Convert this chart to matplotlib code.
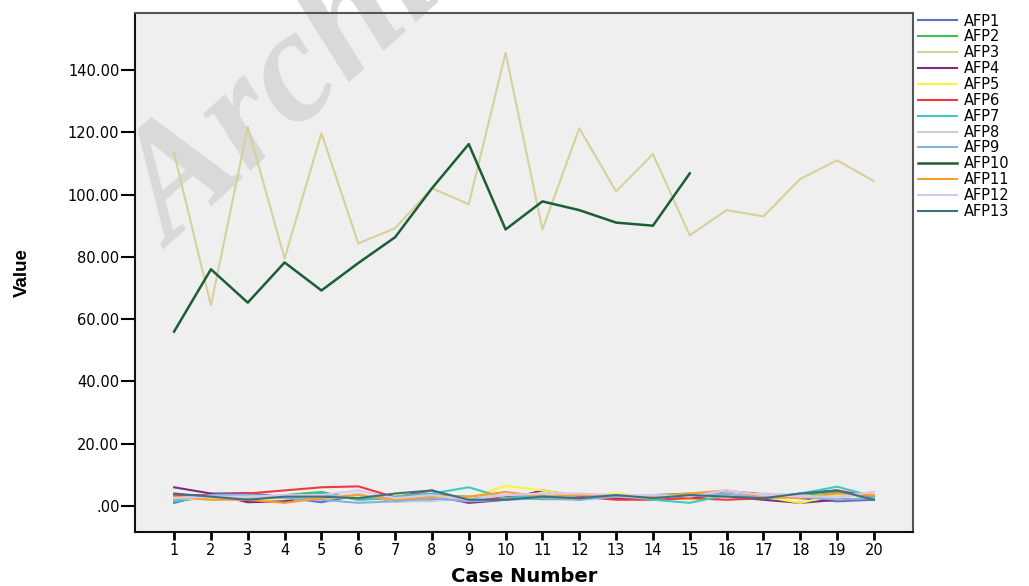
import numpy as np
import matplotlib
matplotlib.use("Agg")
import matplotlib.pyplot as plt

cases = list(range(1, 21))
series_names = ["AFP1", "AFP2", "AFP3", "AFP4", "AFP5", "AFP6", "AFP7",
                "AFP8", "AFP9", "AFP10", "AFP11", "AFP12", "AFP13"]

afp1 = [1.0, 4.0, 4.2, 2.8, 1.2, 3.5, 1.5, 1.8, 2.5, 2.0, 3.0, 2.5, 3.0, 2.2, 2.5, 4.8, 3.8, 2.5, 1.5, 2.0]
afp2 = [1.5, 3.0, 2.5, 3.5, 4.5, 2.0, 2.5, 3.5, 3.0, 2.5, 2.2, 2.2, 3.5, 3.5, 4.0, 3.5, 3.0, 3.5, 4.5, 3.0]
afp3 = [113.3, 64.4, 121.7, 79.5, 119.7, 84.3, 89.2, 102.0, 96.9, 145.5,
        88.8, 121.3, 101.0, 113.0, 86.9, 95.0, 93.0, 105.0, 111.0, 104.3]
afp4 = [6.0, 4.0, 1.2, 1.5, 3.8, 2.5, 3.0, 3.5, 1.0, 2.0, 5.0, 3.0, 2.5, 3.0, 2.5, 3.0, 2.0, 1.0, 2.0, 2.5]
afp5 = [3.0, 2.5, 2.0, 2.5, 2.5, 3.0, 3.5, 3.0, 2.5, 6.5, 5.0, 3.0, 4.0, 3.0, 2.0, 3.0, 3.0, 1.0, 3.5, 3.0]
afp6 = [3.5, 3.5, 4.0, 5.0, 6.0, 6.3, 2.8, 5.0, 1.5, 3.0, 3.5, 3.0, 2.0, 2.0, 2.5, 2.0, 2.5, 4.0, 5.0, 3.0]
afp7 = [1.5, 3.0, 3.5, 3.0, 4.0, 2.0, 3.0, 4.0, 6.0, 2.5, 3.5, 2.0, 3.5, 2.0, 1.0, 3.5, 2.5, 4.0, 6.2, 3.0]
afp8 = [2.5, 2.0, 3.0, 2.5, 2.5, 4.0, 1.5, 1.5, 3.0, 3.5, 4.0, 2.5, 3.0, 2.5, 3.5, 3.0, 4.0, 3.5, 2.5, 4.5]
afp9 = [2.0, 3.5, 3.5, 2.5, 2.0, 1.0, 1.5, 2.5, 1.5, 2.0, 2.5, 2.0, 3.0, 3.5, 3.5, 4.0, 2.5, 3.0, 2.0, 2.5]
# AFP10 has no values after case 15
afp10 = [56.0, 76.0, 65.3, 78.2, 69.2, 78.0, 86.3, 102.0, 116.2, 88.8,
         97.8, 95.0, 91.0, 90.0, 106.8, None, None, None, None, None]
afp11 = [3.0, 2.0, 2.0, 1.0, 2.5, 3.5, 2.0, 3.0, 3.0, 4.5, 3.0, 3.5, 3.5, 3.0, 4.0, 5.0, 3.0, 2.5, 4.0, 3.5]
afp12 = [2.5, 3.0, 3.0, 3.5, 3.5, 5.0, 2.5, 3.5, 2.0, 3.5, 4.0, 4.0, 3.5, 3.5, 3.0, 5.0, 3.5, 3.0, 3.0, 4.5]
afp13 = [4.0, 3.0, 2.0, 3.0, 3.0, 2.5, 4.0, 5.0, 2.0, 2.0, 3.0, 2.5, 3.5, 2.5, 3.5, 3.0, 2.5, 4.0, 5.0, 2.0]

series = [afp1, afp2, afp3, afp4, afp5, afp6, afp7, afp8, afp9, afp10, afp11, afp12, afp13]
colors = ["#5b73c4", "#3cc24f", "#d6d19a", "#7f2a84", "#f8f43c", "#f2383c", "#40c8c8",
          "#d0d0d0", "#86b2dc", "#1a5e34", "#f99d2c", "#dcc6ec", "#3b7283"]

yticks = [0, 20, 40, 60, 80, 100, 120, 140]
ytick_labels = [".00", "20.00", "40.00", "60.00", "80.00", "100.00", "120.00", "140.00"]

fig = plt.figure(figsize=(10.29, 5.86), dpi=100)
ax = fig.add_axes([0.1309, 0.0927, 0.7567, 0.8846])
ax.set_facecolor("#efefef")

# faint diagonal watermark behind the lines
ax.text(172 / 1029, 1 - 250 / 586, "Archive of SID", transform=fig.transFigure,
        rotation=42, rotation_mode="anchor", ha="left", va="baseline",
        fontsize=115, family="Liberation Serif", weight="bold", style="italic",
        color="#d9d9d9", zorder=1, clip_on=False)

for name, vals, c in zip(series_names, series, colors):
    y = np.array([np.nan if v is None else v for v in vals], dtype=float)
    lw = 1.8 if name == "AFP10" else 1.5
    ax.plot(cases, y, color=c, lw=lw, label=name, zorder=2)

ax.set_xlim(-0.07, 21.07)
ax.set_ylim(-8.25, 158.2)
ax.set_xticks(cases)
ax.set_xticklabels([str(c) for c in cases])
ax.set_yticks(yticks)
ax.set_yticklabels(ytick_labels)
ax.tick_params(axis="y", direction="out", length=10, width=1.5, pad=1, labelsize=10.5)
ax.tick_params(axis="x", direction="out", length=5.5, width=2, pad=3, labelsize=10.5)

for side in ["left", "bottom"]:
    ax.spines[side].set_color("#111111")
    ax.spines[side].set_linewidth(1.5)
for side in ["top", "right"]:
    ax.spines[side].set_color("#555555")
    ax.spines[side].set_linewidth(1.5)

fig.text(524 / 1029, 1 - 576 / 586, "Case Number", ha="center", va="center",
         fontsize=14, weight="bold")
fig.text(22 / 1029, 1 - 272.5 / 586, "Value", ha="center", va="center",
         rotation=90, fontsize=13.5, weight="bold", family="Liberation Sans")

fig.legend(loc="upper left", bbox_to_anchor=(918 / 1029, 1 - 13.5 / 586),
           frameon=False, fontsize=10.5, handlelength=2.7, handletextpad=0.45,
           labelspacing=0.06, borderpad=0, borderaxespad=0)

fig.savefig("out.png", dpi=100)
